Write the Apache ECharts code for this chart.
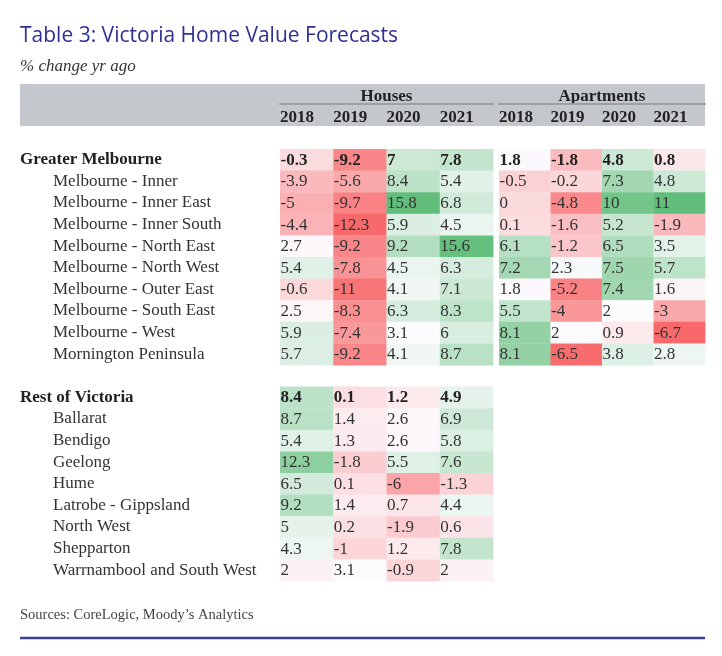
<!DOCTYPE html>
<html>
<head>
<meta charset="utf-8">
<script src="https://cdn.jsdelivr.net/npm/echarts@6/dist/echarts.min.js"></script>
<style>
  html, body { margin: 0; padding: 0; background: #ffffff; }
  #main { width: 722px; height: 656px; }
</style>
</head>
<body>
<div id="main"></div>
<script>
// ---------------- Data ----------------
const titleText = 'Table 3: Victoria Home Value Forecasts';
const subtitleText = '% change yr ago';
const sourceText = 'Sources: CoreLogic, Moody\u2019s Analytics';

const years = ['2018', '2019', '2020', '2021'];
const groups = ['Houses', 'Apartments'];

const melbRegions = [
  'Greater Melbourne',
  'Melbourne - Inner',
  'Melbourne - Inner East',
  'Melbourne - Inner South',
  'Melbourne - North East',
  'Melbourne - North West',
  'Melbourne - Outer East',
  'Melbourne - South East',
  'Melbourne - West',
  'Mornington Peninsula'
];
const restRegions = [
  'Rest of Victoria',
  'Ballarat',
  'Bendigo',
  'Geelong',
  'Hume',
  'Latrobe - Gippsland',
  'North West',
  'Shepparton',
  'Warrnambool and South West'
];
const aggregates = ['Greater Melbourne', 'Rest of Victoria'];

const housesMelb = [
  [-0.3, -9.2, 7, 7.8],
  [-3.9, -5.6, 8.4, 5.4],
  [-5, -9.7, 15.8, 6.8],
  [-4.4, -12.3, 5.9, 4.5],
  [2.7, -9.2, 9.2, 15.6],
  [5.4, -7.8, 4.5, 6.3],
  [-0.6, -11, 4.1, 7.1],
  [2.5, -8.3, 6.3, 8.3],
  [5.9, -7.4, 3.1, 6],
  [5.7, -9.2, 4.1, 8.7]
];
const apartmentsMelb = [
  [1.8, -1.8, 4.8, 0.8],
  [-0.5, -0.2, 7.3, 4.8],
  [0, -4.8, 10, 11],
  [0.1, -1.6, 5.2, -1.9],
  [6.1, -1.2, 6.5, 3.5],
  [7.2, 2.3, 7.5, 5.7],
  [1.8, -5.2, 7.4, 1.6],
  [5.5, -4, 2, -3],
  [8.1, 2, 0.9, -6.7],
  [8.1, -6.5, 3.8, 2.8]
];
const housesRest = [
  [8.4, 0.1, 1.2, 4.9],
  [8.7, 1.4, 2.6, 6.9],
  [5.4, 1.3, 2.6, 5.8],
  [12.3, -1.8, 5.5, 7.6],
  [6.5, 0.1, -6, -1.3],
  [9.2, 1.4, 0.7, 4.4],
  [5, 0.2, -1.9, 0.6],
  [4.3, -1, 1.2, 7.8],
  [2, 3.1, -0.9, 2]
];

// ---------------- Helpers ----------------
const rows = [...melbRegions, '', ...restRegions];
const restOffset = melbRegions.length + 1;

const RED = [248, 105, 107];
const MID = [252, 252, 255];
const GREEN = [99, 190, 123];

function median(arr) {
  const s = arr.slice().sort((a, b) => a - b);
  const n = s.length;
  return n % 2 ? s[(n - 1) / 2] : (s[n / 2 - 1] + s[n / 2]) / 2;
}
function scaleOf(values) {
  return { min: Math.min(...values), max: Math.max(...values), mid: median(values) };
}
function mix(a, b, t) {
  const c = a.map((x, i) => Math.round(x + (b[i] - x) * t));
  return 'rgb(' + c.join(',') + ')';
}
function cellColor(v, s) {
  if (v <= s.mid) {
    const t = s.mid === s.min ? 0 : (s.mid - v) / (s.mid - s.min);
    return mix(MID, RED, t);
  }
  const t = (v - s.mid) / (s.max - s.mid);
  return mix(MID, GREEN, t);
}

const housesScale = scaleOf([...housesMelb.flat(), ...housesRest.flat()]);
const aptScale = scaleOf(apartmentsMelb.flat());

function buildData(block, rowOffset, regionList) {
  const out = [];
  block.forEach((vals, r) => {
    vals.forEach((v, c) => {
      out.push([c, r + rowOffset, v, aggregates.includes(regionList[r]) ? 1 : 0]);
    });
  });
  return out;
}
const housesData = [...buildData(housesMelb, 0, melbRegions), ...buildData(housesRest, restOffset, restRegions)];
const aptData = buildData(apartmentsMelb, 0, melbRegions);

const SERIF = '"Liberation Serif", "Times New Roman", serif';
const TEXT = '#333333';

function makeRender(scale) {
  return function (params, api) {
    const col = api.value(0), row = api.value(1), v = api.value(2), bold = api.value(3);
    const p = api.coord([col, row]);
    const sz = api.size([1, 1]);
    const w = sz[0], h = sz[1];
    return {
      type: 'group',
      children: [
        {
          type: 'rect',
          shape: { x: p[0], y: p[1] - h / 2, width: w + 0.4, height: h + 0.4 },
          style: { fill: cellColor(v, scale) }
        },
        {
          type: 'text',
          style: {
            x: p[0] + 0.5, y: p[1] + 0.5,
            text: String(v),
            fill: bold ? '#222' : TEXT,
            fontSize: 17,
            fontFamily: SERIF,
            fontWeight: bold ? 'bold' : 'normal',
            align: 'left',
            verticalAlign: 'middle'
          }
        }
      ]
    };
  };
}

function yearAxis(gridIndex) {
  return {
    type: 'value', gridIndex, min: 0, max: 4, interval: 1, position: 'top',
    axisLine: { show: false }, axisTick: { show: false }, splitLine: { show: false },
    axisLabel: {
      formatter: v => years[v] || '', align: 'left', margin: 23,
      fontSize: 17, fontWeight: 'bold', fontFamily: SERIF, color: '#222'
    }
  };
}
function groupAxis(gridIndex, name) {
  return {
    type: 'value', gridIndex, min: 0, max: 4, interval: 1, position: 'top', offset: 45,
    axisLine: { show: true, lineStyle: { color: '#9DA1A6', width: 2 } },
    axisTick: { show: false }, splitLine: { show: false }, axisLabel: { show: false },
    name, nameLocation: 'middle', nameGap: -1,
    nameTextStyle: { fontSize: 17, fontWeight: 'bold', fontFamily: SERIF, color: '#222' }
  };
}

const chart = echarts.init(document.getElementById('main'));
chart.setOption({
  backgroundColor: '#ffffff',
  animation: false,
  title: [
    { text: titleText, left: 15, top: 21,
      textStyle: { fontFamily: '"Open Sans", "Noto Sans", sans-serif', fontSize: 21, fontWeight: 500, color: '#2E3192' } },
    { text: subtitleText, left: 15, top: 53,
      textStyle: { fontFamily: SERIF, fontStyle: 'italic', fontSize: 17, fontWeight: 'normal', color: '#333' } },
    { text: sourceText, left: 15, top: 603,
      textStyle: { fontFamily: SERIF, fontSize: 14.5, fontWeight: 'normal', color: '#444' } }
  ],
  graphic: [
    { type: 'rect', z: -10, shape: { x: 20, y: 84, width: 685, height: 42 }, style: { fill: '#C4C8CC' } },
    { type: 'line', shape: { x1: 20, y1: 638, x2: 705, y2: 638 }, style: { stroke: '#3B3EA3', lineWidth: 2.5 } }
  ],
  grid: [
    { left: 280, top: 149, width: 213, height: 432 },
    { left: 499, top: 149, width: 206, height: 432 }
  ],
  xAxis: [yearAxis(0), groupAxis(0, groups[0]), yearAxis(1), groupAxis(1, groups[1])],
  yAxis: [
    {
      type: 'category', gridIndex: 0, data: rows, inverse: true,
      axisLine: { show: false }, axisTick: { show: false }, splitLine: { show: false },
      axisLabel: {
        interval: 0, align: 'left', margin: 260,
        formatter: v => v === '' ? '' : (aggregates.includes(v) ? '{g|' + v + '}' : '{s|' + v + '}'),
        rich: {
          g: { fontSize: 17, fontWeight: 'bold', fontFamily: SERIF, color: '#222' },
          s: { fontSize: 17, fontFamily: SERIF, color: TEXT, padding: [0, 0, 0, 33] }
        }
      }
    },
    {
      type: 'category', gridIndex: 1, data: rows, inverse: true,
      axisLine: { show: false }, axisTick: { show: false }, splitLine: { show: false },
      axisLabel: { show: false }
    }
  ],
  series: [
    { type: 'custom', xAxisIndex: 0, yAxisIndex: 0, renderItem: makeRender(housesScale),
      encode: { x: 0, y: 1 }, data: housesData },
    { type: 'custom', xAxisIndex: 2, yAxisIndex: 1, renderItem: makeRender(aptScale),
      encode: { x: 0, y: 1 }, data: aptData }
  ]
});
</script>
</body>
</html>
